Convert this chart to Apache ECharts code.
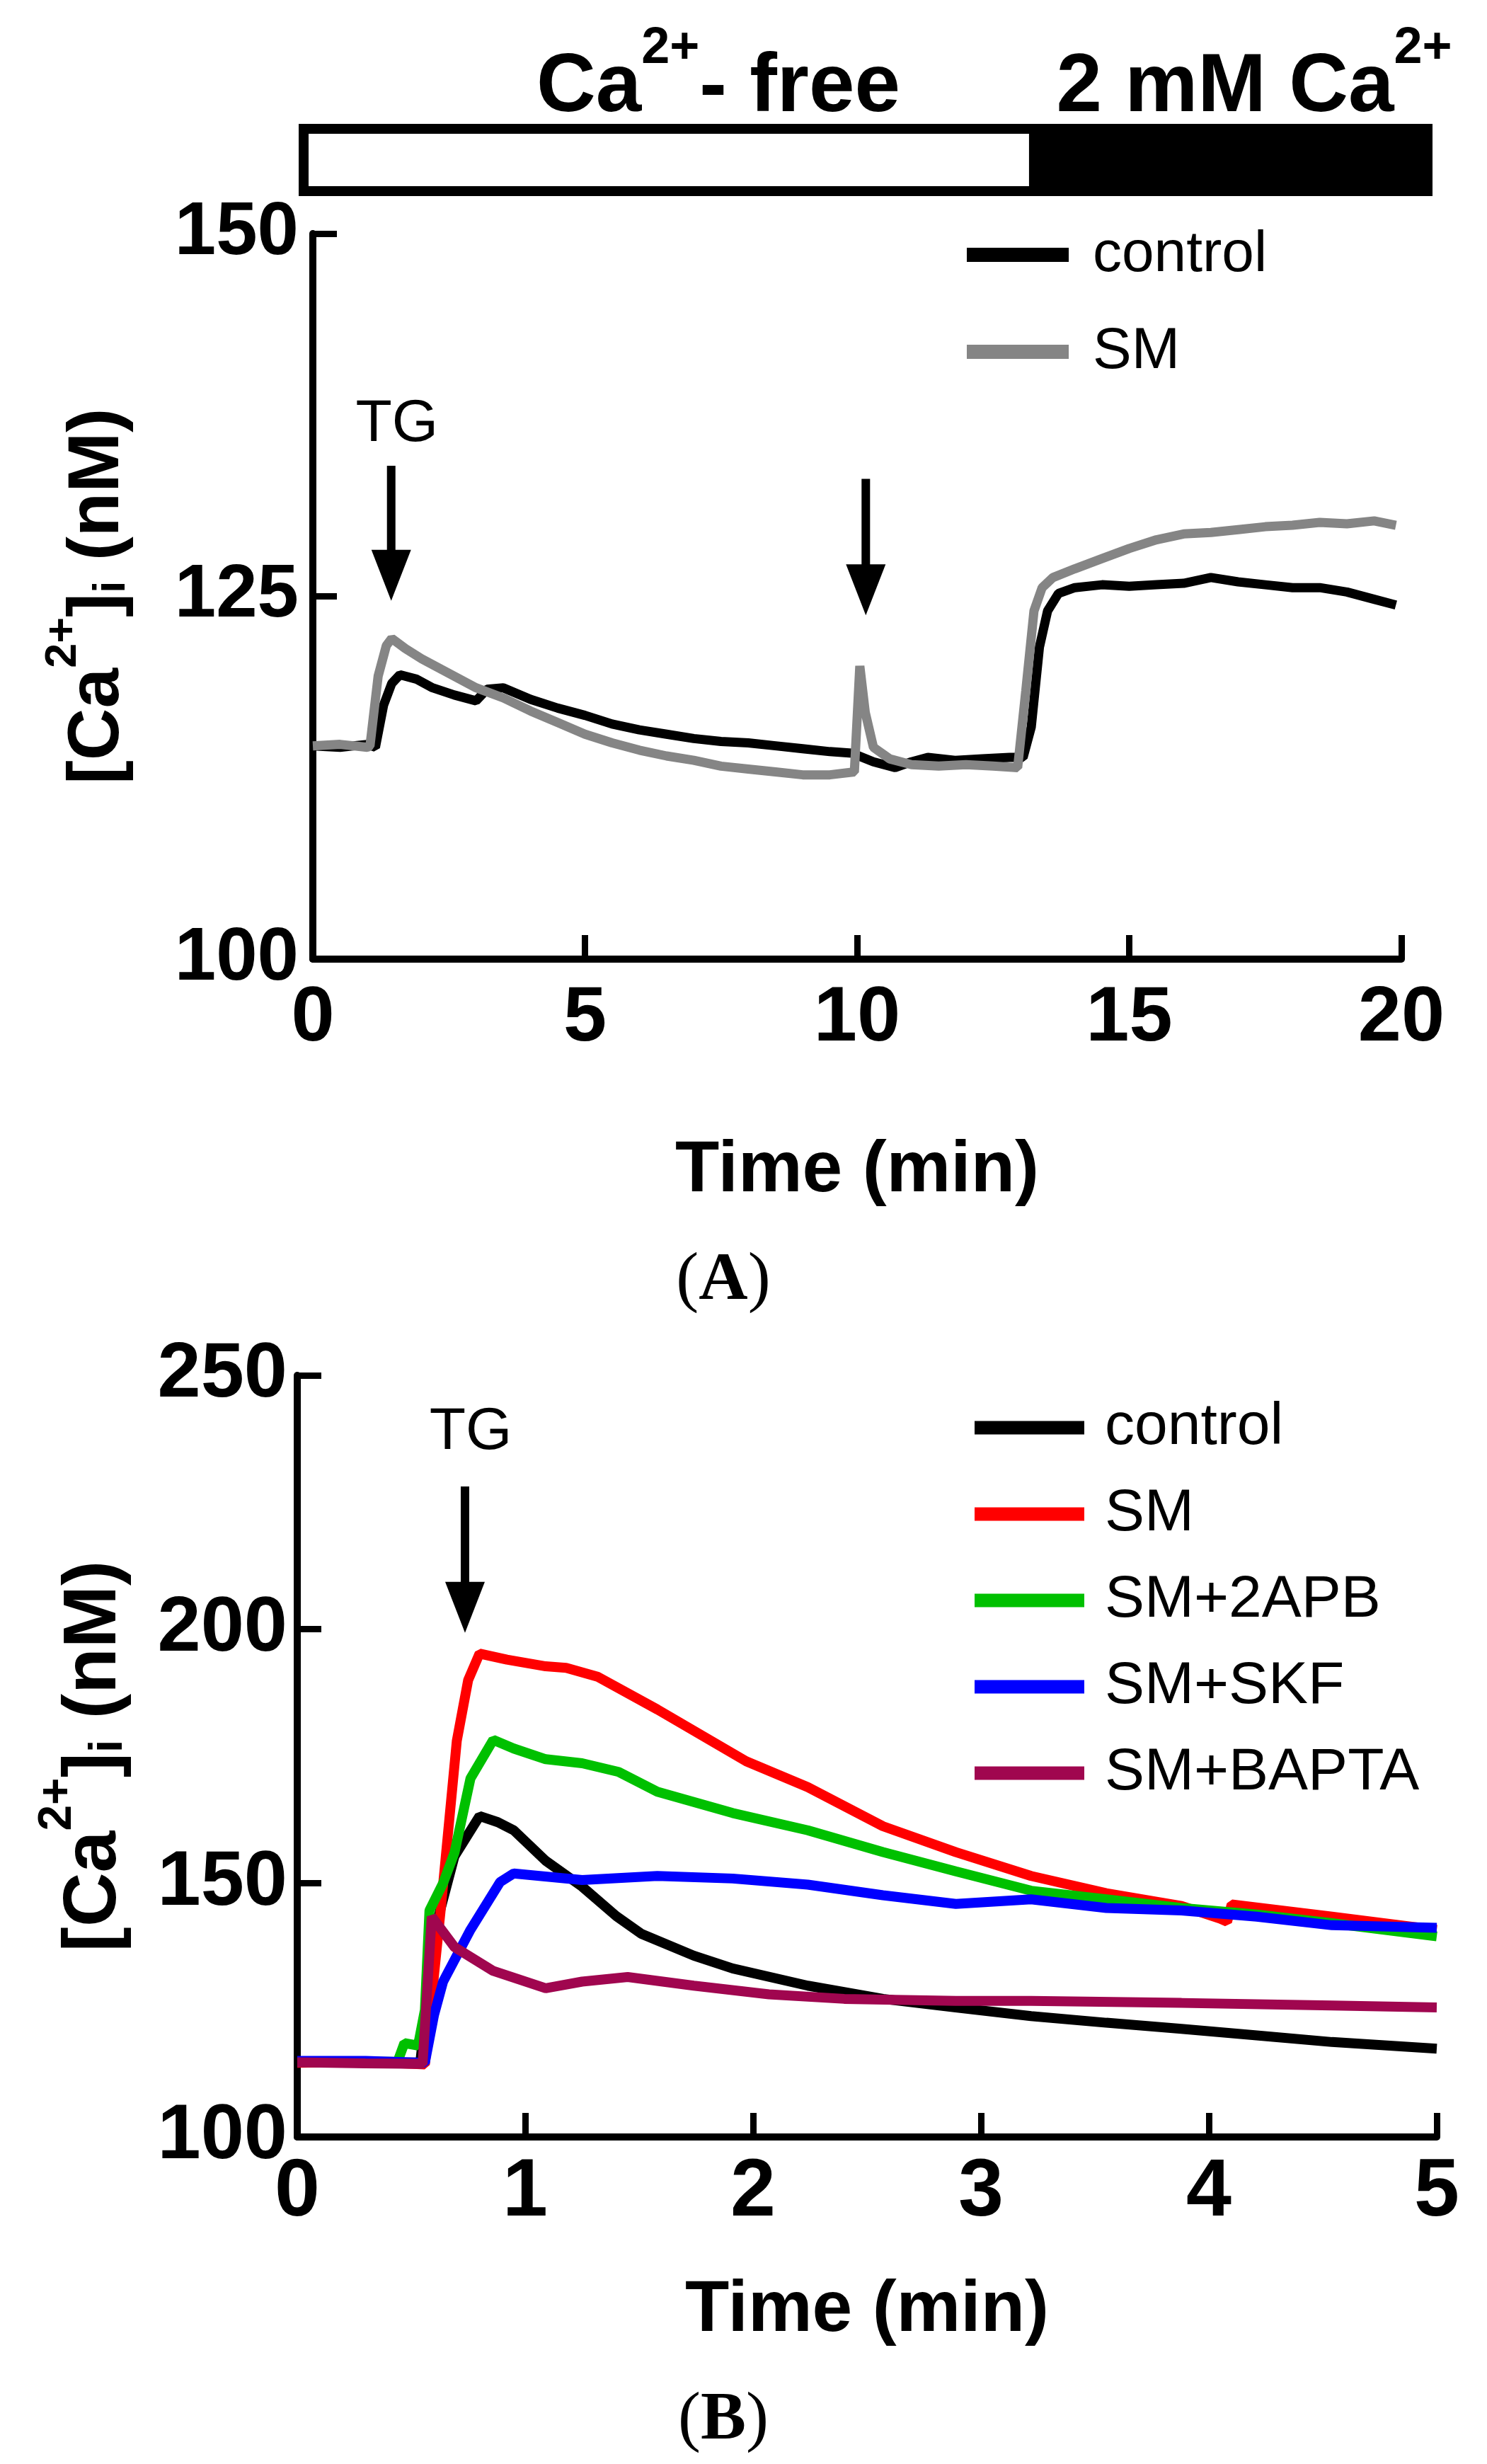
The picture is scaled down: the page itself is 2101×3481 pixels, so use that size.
<!DOCTYPE html>
<html>
<head>
<meta charset="utf-8">
<script src="https://cdn.jsdelivr.net/npm/echarts@6/dist/echarts.min.js"></script>
<style>
html,body{margin:0;padding:0;background:#fff;}
#c{width:2101px;height:3481px;}
</style>
</head>
<body>
<div id="c"></div>
<script>
// ---------- Panel A data (time in min, [Ca2+]i in nM) ----------
const tControlA = [0,0.5,1.0,1.15,1.3,1.45,1.6,1.9,2.2,2.6,3.0,3.2,3.5,4.0,4.5,5.0,5.5,6.0,6.5,7.0,7.5,8.0,8.5,9.0,9.5,9.9,10.3,10.7,11.0,11.3,11.8,12.3,12.8,13.05,13.2,13.35,13.5,13.7,14.0,14.5,15.0,15.5,16.0,16.5,17.0,17.5,18.0,18.5,19.0,19.5,19.9];
const vControlA = [114.7,114.6,114.8,114.6,117.5,119.0,119.6,119.3,118.7,118.2,117.8,118.6,118.7,117.9,117.3,116.8,116.2,115.8,115.5,115.2,115.0,114.9,114.7,114.5,114.3,114.2,113.6,113.2,113.6,113.9,113.7,113.8,113.9,113.9,116.0,121.5,124.0,125.2,125.6,125.8,125.7,125.8,125.9,126.3,126.0,125.8,125.6,125.6,125.3,124.8,124.4];
const tSmA = [0,0.5,1.0,1.05,1.2,1.35,1.45,1.7,2.0,2.5,3.0,3.5,4.0,4.5,5.0,5.5,6.0,6.5,7.0,7.5,8.0,8.5,9.0,9.5,9.95,10.05,10.15,10.3,10.6,11.0,11.5,12.0,12.5,12.95,13.1,13.25,13.4,13.6,14.0,14.5,15.0,15.5,16.0,16.5,17.0,17.5,18.0,18.5,19.0,19.5,19.9];
const vSmA = [114.7,114.8,114.6,114.7,119.5,121.6,122.1,121.4,120.7,119.7,118.7,118.0,117.1,116.3,115.5,114.9,114.4,114.0,113.7,113.3,113.1,112.9,112.7,112.7,112.9,120.2,117.0,114.6,113.8,113.4,113.3,113.4,113.3,113.2,118.5,124.0,125.6,126.3,126.9,127.6,128.3,128.9,129.3,129.4,129.6,129.8,129.9,130.1,130.0,130.2,129.9];
const xTicksA = {min:0, max:20, interval:5};
const yTicksA = {min:100, max:150, interval:25};
const caSwitchTime = 13.25;                       // Ca2+-free -> 2 mM Ca2+
const arrowsA = [[1.44,134.0,124.7],[10.16,133.1,123.7]]; // [time, top, tip]

// ---------- Panel B data ----------
const tControlB = [0,0.3,0.54,0.6,0.69,0.8,0.88,0.95,1.09,1.25,1.4,1.51,1.74,1.91,2.24,2.57,2.89,3.22,3.55,3.88,4.21,4.54,5.0];
const vControlB = [114.8,114.6,114.7,140.0,155.3,163.2,162.0,160.4,154.4,149.3,143.5,140.0,135.7,133.2,129.8,127.2,125.5,123.8,122.5,121.3,120.0,118.7,117.4];
const tSmB = [0,0.3,0.56,0.63,0.7,0.75,0.8,0.92,1.09,1.18,1.32,1.58,1.97,2.24,2.57,2.89,3.22,3.55,3.88,4.05,4.08,4.1,4.54,5.0];
const vSmB = [114.6,114.8,114.3,145.0,178.0,190.0,195.2,194.0,192.7,192.4,190.6,184.2,174.0,168.9,161.2,156.1,151.4,148.0,145.5,143.0,142.4,145.8,143.4,140.8];
const t2apbB = [0,0.44,0.47,0.53,0.56,0.58,0.64,0.69,0.76,0.86,0.95,1.09,1.25,1.41,1.58,1.91,2.24,2.57,2.89,3.22,3.55,3.88,4.21,4.54,5.0];
const v2apbB = [114.8,114.8,118.5,118.0,125.0,144.6,150.0,156.0,170.6,178.2,176.5,174.4,173.6,171.9,168.0,163.8,160.4,156.1,152.3,148.5,146.8,145.1,143.8,142.1,139.5];
const tSkfB = [0,0.3,0.56,0.6,0.64,0.76,0.89,0.95,1.25,1.58,1.91,2.24,2.57,2.89,3.22,3.55,3.88,4.21,4.54,5.0];
const vSkfB = [115.0,115.0,114.6,124.0,130.6,140.8,150.2,151.9,150.6,151.4,150.9,149.7,147.6,145.9,146.8,145.1,144.6,143.4,141.7,141.2];
const tBaptaB = [0,0.3,0.55,0.59,0.69,0.86,1.09,1.25,1.45,1.74,2.07,2.4,2.89,3.22,3.88,4.54,5.0];
const vBaptaB = [114.7,114.5,114.4,143.4,137.4,132.7,129.3,130.6,131.5,129.8,128.1,127.2,126.8,126.8,126.4,125.9,125.5];
const xTicksB = {min:0, max:5, interval:1};
const yTicksB = {min:100, max:250, interval:50};
const arrowsB = [[0.736,228.1,199.3]];

const namesA = ['control','SM'];
const namesB = ['control ','SM ','SM+2APB','SM+SKF','SM+BAPTA'];
const colorsA = ['#000000','#858585'];
const colorsB = ['#000000','#ff0000','#00c000','#0000ff','#a0064f'];

function zip(t,v){return t.map((x,i)=>[x,v[i]]);}

const FONT = '"Liberation Sans", Arial, Helvetica, sans-serif';
const chart = echarts.init(document.getElementById('c'), null, {renderer:'canvas', width:2101, height:3481});

function axisBase(fs, margin){
  return {
    axisLine:{show:true, onZero:false, lineStyle:{color:'#000', width:10}},
    axisTick:{show:true, inside:true, length:34, lineStyle:{color:'#000', width:9}},
    axisLabel:{color:'#000', fontSize:fs, fontWeight:'bold', fontFamily:FONT, margin:margin},
    splitLine:{show:false}
  };
}
const nameRich = (fs)=>({
  b:{fontSize:fs, fontWeight:'bold', fontFamily:FONT, color:'#000', verticalAlign:'bottom', lineHeight:fs*1.3},
  sup:{fontSize:Math.round(fs*0.62), fontWeight:'bold', fontFamily:FONT, color:'#000', verticalAlign:'top', lineHeight:fs*1.3},
  sub:{fontSize:Math.round(fs*0.62), fontWeight:'bold', fontFamily:FONT, color:'#000', verticalAlign:'bottom', lineHeight:fs*1.1}
});
const yName = '{b|[Ca}{sup|2+}{b|]}{sub|i}{b| (nM)}';

const option = {
  animation:false,
  backgroundColor:'#fff',
  grid:[
    {left:442, top:330, width:1538, height:1025},
    {left:420, top:1943, width:1610, height:1076}
  ],
  xAxis:[
    Object.assign(axisBase(110, 30), {gridIndex:0, type:'value', min:xTicksA.min, max:xTicksA.max, interval:xTicksA.interval,
      name:'Time (min)', nameLocation:'middle', nameGap:300,
      nameTextStyle:{fontSize:102, fontWeight:'bold', fontFamily:FONT, color:'#000', verticalAlign:'middle'}}),
    Object.assign(axisBase(115, 22), {gridIndex:1, type:'value', min:xTicksB.min, max:xTicksB.max, interval:xTicksB.interval,
      name:'Time (min)', nameLocation:'middle', nameGap:246,
      nameTextStyle:{fontSize:102, fontWeight:'bold', fontFamily:FONT, color:'#000', verticalAlign:'middle'}})
  ],
  yAxis:[
    Object.assign(axisBase(105, 20), {gridIndex:0, type:'value', min:yTicksA.min, max:yTicksA.max, interval:yTicksA.interval,
      name:yName, nameLocation:'middle', nameRotate:90, nameGap:318,
      nameTextStyle:{verticalAlign:'middle', align:'center', rich:nameRich(102)}}),
    Object.assign(axisBase(110, 14), {gridIndex:1, type:'value', min:yTicksB.min, max:yTicksB.max, interval:yTicksB.interval,
      name:yName, nameLocation:'middle', nameRotate:90, nameGap:302,
      nameTextStyle:{verticalAlign:'middle', align:'center', rich:nameRich(106)}})
  ],
  legend:[
    {data:namesA, orient:'vertical', left:1366, top:315, padding:0, icon:'rect', itemWidth:144, itemHeight:20, itemGap:47,
      textStyle:{fontSize:82, fontFamily:FONT, color:'#000', lineHeight:90, padding:[0,0,0,29]}},
    {data:namesB, orient:'vertical', left:1377, top:1972, padding:0, icon:'rect', itemWidth:155, itemHeight:19, itemGap:32,
      formatter:(n)=>n.trim(),
      textStyle:{fontSize:84, fontFamily:FONT, color:'#000', lineHeight:90, padding:[0,0,0,24]}}
  ],
  series:[
    {name:namesA[0], type:'line', xAxisIndex:0, yAxisIndex:0, data:zip(tControlA,vControlA), showSymbol:false, symbol:'none', color:colorsA[0], lineStyle:{width:13, color:colorsA[0]}},
    {name:namesA[1], type:'line', xAxisIndex:0, yAxisIndex:0, data:zip(tSmA,vSmA), showSymbol:false, symbol:'none', color:colorsA[1], lineStyle:{width:13, color:colorsA[1]}},
    {name:namesB[0], type:'line', xAxisIndex:1, yAxisIndex:1, data:zip(tControlB,vControlB), showSymbol:false, symbol:'none', color:colorsB[0], lineStyle:{width:14, color:colorsB[0]}},
    {name:namesB[1], type:'line', xAxisIndex:1, yAxisIndex:1, data:zip(tSmB,vSmB), showSymbol:false, symbol:'none', color:colorsB[1], lineStyle:{width:14, color:colorsB[1]}},
    {name:namesB[2], type:'line', xAxisIndex:1, yAxisIndex:1, data:zip(t2apbB,v2apbB), showSymbol:false, symbol:'none', color:colorsB[2], lineStyle:{width:14, color:colorsB[2]}},
    {name:namesB[3], type:'line', xAxisIndex:1, yAxisIndex:1, data:zip(tSkfB,vSkfB), showSymbol:false, symbol:'none', color:colorsB[3], lineStyle:{width:14, color:colorsB[3]}},
    {name:namesB[4], type:'line', xAxisIndex:1, yAxisIndex:1, data:zip(tBaptaB,vBaptaB), showSymbol:false, symbol:'none', color:colorsB[4], lineStyle:{width:14, color:colorsB[4]}}
  ]
};
chart.setOption(option);

// ---------- annotations placed through the axes ----------
const g = [];
function arrow(gridIndex, a, label, labelOffset){
  const top = chart.convertToPixel({gridIndex:gridIndex}, [a[0], a[1]]);
  const tip = chart.convertToPixel({gridIndex:gridIndex}, [a[0], a[2]]);
  const headH = 72, headW = 56;
  g.push({type:'line', shape:{x1:top[0], y1:top[1], x2:tip[0], y2:tip[1]-headH+4}, style:{stroke:'#000', lineWidth:12}, z:100});
  g.push({type:'polygon', shape:{points:[[tip[0]-headW/2, tip[1]-headH],[tip[0]+headW/2, tip[1]-headH],[tip[0], tip[1]]]}, style:{fill:'#000'}, z:100});
  if(label){
    g.push({type:'text', x:top[0]+8, y:top[1]-labelOffset, style:{text:label, font:'84px '+FONT, fill:'#000', align:'center', verticalAlign:'middle'}, z:100});
  }
}
arrow(0, arrowsA[0], 'TG', 58);
arrow(0, arrowsA[1], null, 0);
arrow(1, arrowsB[0], 'TG', 76);

// condition bar above panel A
const gridA = chart.getModel().getComponent('grid',0).coordinateSystem.getRect();
const sw = chart.convertToPixel({gridIndex:0}, [caSwitchTime, yTicksA.max])[0];
const barL = gridA.x - 20, barR = gridA.x + gridA.width + 44, barT = 175, barB = 277;
g.push({type:'rect', shape:{x:barL+7, y:barT+7, width:sw-barL-7, height:barB-barT-14}, style:{fill:'#fff', stroke:'#000', lineWidth:14}});
g.push({type:'rect', shape:{x:sw, y:barT, width:barR-sw, height:barB-barT}, style:{fill:'#000'}});
const barRich = {
  b:{fontSize:116, fontWeight:'bold', fontFamily:FONT, fill:'#000', verticalAlign:'bottom', lineHeight:150},
  sup:{fontSize:72, fontWeight:'bold', fontFamily:FONT, fill:'#000', verticalAlign:'top', lineHeight:150}
};
g.push({type:'text', x:1015, y:108, style:{text:'{b|Ca}{sup|2+}{b|- free}', rich:barRich, align:'center', verticalAlign:'middle'}});
g.push({type:'text', x:1772, y:108, style:{text:'{b|2 mM Ca}{sup|2+}', rich:barRich, align:'center', verticalAlign:'middle'}});

// panel letters
const letterRich = {
  p:{fontSize:96, fontFamily:'"Liberation Serif", "Times New Roman", serif', fill:'#000'},
  a:{fontSize:96, fontWeight:'bold', fontFamily:'"Liberation Serif", "Times New Roman", serif', fill:'#000'}
};
g.push({type:'text', x:1022, y:1810, style:{text:'{p|(}{a|A}{p|)}', rich:letterRich, align:'center', verticalAlign:'middle'}});
g.push({type:'text', x:1022, y:3420, style:{text:'{p|(}{a|B}{p|)}', rich:letterRich, align:'center', verticalAlign:'middle'}});

chart.setOption({graphic:g});
</script>
</body>
</html>
